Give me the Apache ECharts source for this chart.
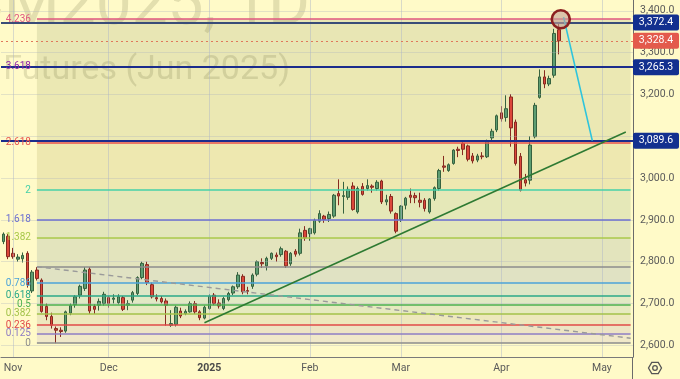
<!DOCTYPE html>
<html><head><meta charset="utf-8">
<script src="https://cdn.jsdelivr.net/npm/echarts@6.0.0/dist/echarts.min.js"></script>
<style>html,body{margin:0;padding:0;background:#fffac8;}#c{width:680px;height:379px;}</style>
</head><body><div id="c"></div>
<script>
// ---- categories (trading days, incl. projected future days) ----
const dates = [
'2024-10-30','2024-10-31',
'2024-11-01','2024-11-04','2024-11-05','2024-11-06','2024-11-07','2024-11-08','2024-11-11','2024-11-12','2024-11-13','2024-11-14','2024-11-15','2024-11-18','2024-11-19','2024-11-20','2024-11-21','2024-11-22','2024-11-25','2024-11-26','2024-11-27','2024-11-29',
'2024-12-02','2024-12-03','2024-12-04','2024-12-05','2024-12-06','2024-12-09','2024-12-10','2024-12-11','2024-12-12','2024-12-13','2024-12-16','2024-12-17','2024-12-18','2024-12-19','2024-12-20','2024-12-23','2024-12-24','2024-12-26','2024-12-27','2024-12-30','2024-12-31',
'2025-01-02','2025-01-03','2025-01-06','2025-01-07','2025-01-08','2025-01-09','2025-01-10','2025-01-13','2025-01-14','2025-01-15','2025-01-16','2025-01-17','2025-01-21','2025-01-22','2025-01-23','2025-01-24','2025-01-27','2025-01-28','2025-01-29','2025-01-30','2025-01-31',
'2025-02-03','2025-02-04','2025-02-05','2025-02-06','2025-02-07','2025-02-10','2025-02-11','2025-02-12','2025-02-13','2025-02-14','2025-02-18','2025-02-19','2025-02-20','2025-02-21','2025-02-24','2025-02-25','2025-02-26','2025-02-27','2025-02-28',
'2025-03-03','2025-03-04','2025-03-05','2025-03-06','2025-03-07','2025-03-10','2025-03-11','2025-03-12','2025-03-13','2025-03-14','2025-03-17','2025-03-18','2025-03-19','2025-03-20','2025-03-21','2025-03-24','2025-03-25','2025-03-26','2025-03-27','2025-03-28','2025-03-31',
'2025-04-01','2025-04-02','2025-04-03','2025-04-04','2025-04-07','2025-04-08','2025-04-09','2025-04-10','2025-04-11','2025-04-14','2025-04-15','2025-04-16','2025-04-17',
'2025-04-21','2025-04-22','2025-04-23','2025-04-24','2025-04-25','2025-04-28','2025-04-29','2025-04-30',
'2025-05-01','2025-05-02','2025-05-05','2025-05-06','2025-05-07','2025-05-08','2025-05-09'
];

// ---- OHLC values ----
const open = [2848,2861,2820,2806,2807,2820,2730,2780,2756,2693,2669,2640,2636,2634,2677,2697,2720,2736,2782,2693,2696,2700,
2714,2710,2702,2714,2696,2708,2724,2762,2793,2745,2714,2712,2706,2648,2650,2682,2676,2680,2700,2680,2665,
2688,2720,2701,2688,2709,2725,2740,2765,2731,2741,2770,2798,2790,2808,2816,2817,2825,2795,2825,2820,2875,
2867,2869,2897,2909,2903,2909,2963,2956,2954,2981,2919,2980,2975,2981,2975,2993,2943,2956,2915,
2901,2935,2959,2958,2947,2947,2919,2951,2975,3029,3018,3035,3069,3083,3077,3053,3043,3053,3051,3096,3115,
3156,3145,3194,3134,3052,2996,2995,3099,3193,3242,3225,3246,3355];
const high = [2870,2866,2833,2818,2822,2825,2780,2787,2760,2700,2678,2645,2643,2683,2700,2720,2745,2787,2787,2698,2712,2728,
2718,2722,2722,2718,2708,2730,2765,2800,2800,2750,2722,2718,2712,2684,2695,2690,2686,2705,2706,2684,2695,
2722,2725,2710,2716,2728,2743,2775,2770,2740,2772,2803,2808,2812,2822,2822,2836,2828,2823,2830,2879,2885,
2881,2903,2923,2912,2920,2962,2997,2991,2980,2990,2980,2988,2997,2985,2995,2996,2960,2962,2918,
2935,2955,2975,2965,2965,2952,2952,2980,3022,3053,3035,3069,3075,3090,3080,3060,3058,3062,3092,3118,3152,
3172,3198,3201,3140,3060,3010,3100,3180,3260,3258,3245,3357,3371];
const low = [2842,2806,2807,2800,2798,2738,2725,2755,2678,2660,2640,2605,2620,2630,2672,2690,2712,2730,2675,2675,2683,2695,
2690,2700,2698,2682,2684,2702,2720,2758,2744,2712,2705,2700,2647,2644,2645,2665,2672,2678,2675,2660,2662,
2685,2696,2688,2684,2705,2720,2735,2722,2722,2735,2765,2785,2779,2804,2800,2812,2785,2790,2812,2815,2850,
2850,2865,2893,2893,2895,2905,2935,2915,2948,2922,2915,2958,2970,2965,2970,2938,2935,2915,2868,
2895,2925,2940,2940,2930,2920,2915,2946,2970,3015,3015,3032,3050,3055,3040,3035,3038,3045,3048,3090,3110,
3135,3135,3075,3030,2968,2980,2985,3095,3190,3215,3220,3240,3296];
const close = [2866,2812,2812,2811,2815,2745,2775,2760,2681,2669,2648,2636,2633,2680,2695,2716,2741,2780,2682,2686,2705,2722,
2700,2713,2716,2686,2700,2726,2762,2796,2750,2716,2711,2704,2696,2652,2691,2670,2681,2700,2680,2666,2691,
2717,2700,2694,2712,2724,2740,2768,2728,2729,2768,2800,2795,2808,2820,2812,2831,2790,2820,2818,2869,2857,
2879,2899,2915,2901,2913,2959,2957,2958,2973,2925,2975,2961,2982,2978,2990,2943,2948,2921,2873,
2933,2952,2954,2953,2942,2927,2950,2977,3018,3026,3032,3067,3066,3069,3045,3041,3053,3051,3088,3112,3149,
3142,3166,3120,3035,2971,2988,3079,3174,3242,3225,3238,3346,3328.4];

// ---- axis ticks / labels ----
const priceTicks = [2600,2700,2800,2900,3000,3100,3200,3300,3400];
const priceLabels = [2600,2700,2800,2900,3000,3200,3300,3400];
const monthLabels = {'2024-11-01':'Nov','2024-12-02':'Dec','2025-01-02':'2025','2025-02-03':'Feb','2025-03-03':'Mar','2025-04-01':'Apr','2025-05-01':'May'};

// ---- Fibonacci extension ----
const fibRatios = [0,0.125,0.236,0.382,0.5,0.618,0.786,1,1.382,1.618,2,2.618,3.618,4.236];
const fibBase = 2605, fibRange = 183;
const fibStart = '2024-11-08';

// ---- drawings ----
const hLines = [3372.4, 3265.3, 3089.6];
const lastPrice = 3328.4;
const trendGreen = [['2024-12-31', 2654], ['2025-05-08', 3110]];
const trendDashed = [['2024-11-08', 2788], ['2025-05-09', 2617]];
const projCyan = [['2025-04-21', 3385], ['2025-04-29', 3089.6]];
const circleMark = [['2025-04-17', 3380]];

// ---- styles ----
const fibColors = ['#8c8c8c','#8e7cc3','#e04848','#a3c24a','#4cb050','#2aa889','#4ba3d9','#8c8c8c','#a8c84a','#6b6fd0','#45d0a8','#e8534c','#8e24aa','#e0567f'];
const bandColors = ['#f0e8c9','#ede4c4','#ede8bd','#e6eabf','#e1e9c4','#dde6c6','#e0e2c3','#e3e4bd','#e3e6bb','#e5e8b8','#eee8b0','#ebe8b3','#e8e6b4'];
const FONT = 'Roboto, "Liberation Sans", sans-serif';

const lastDate = dates[dates.length - 1];
const fibPrice = r => fibBase + r * fibRange;
const fmt = v => v.toLocaleString('en-US', {minimumFractionDigits: 1, maximumFractionDigits: 1});

const candleData = open.map((o, i) => [o, close[i], low[i], high[i]]);

const bands = [];
for (let i = 0; i < fibRatios.length - 1; i++) {
  bands.push([{xAxis: fibStart, yAxis: fibPrice(fibRatios[i]), itemStyle: {color: bandColors[i]}},
              {xAxis: lastDate, yAxis: fibPrice(fibRatios[i + 1])}]);
}
const gridLines = [];
priceTicks.forEach(v => gridLines.push({yAxis: v}));
Object.keys(monthLabels).forEach(d => gridLines.push({xAxis: d, lineStyle: {color: 'rgba(170,180,200,0.45)', width: 1, type: 'solid'}}));

const fibLines = fibRatios.map((r, i) => [
  {coord: [fibStart, fibPrice(r)], lineStyle: {color: fibColors[i], width: 1.5, type: 'solid'},
   label: {show: r !== 1, position: 'start', formatter: String(r), color: fibColors[i], fontSize: 10, fontFamily: FONT, distance: 6}},
  {coord: [lastDate, fibPrice(r)]}
]);

const drawLines = [];
hLines.forEach((v, i) => drawLines.push({yAxis: v, lineStyle: {color: i === 0 ? '#3a4c78' : '#1b2c8c', width: 2, type: 'solid'}}));
drawLines.push({yAxis: lastPrice, lineStyle: {color: '#e0785b', width: 1, type: [2, 3]}});
drawLines.push([{coord: trendGreen[0], lineStyle: {color: '#2e7a32', width: 1.6, type: 'solid'}}, {coord: trendGreen[1]}]);
drawLines.push([{coord: trendDashed[0], lineStyle: {color: '#9a9a9a', width: 1.4, type: [5, 4]}}, {coord: trendDashed[1]}]);
drawLines.push([{coord: projCyan[0], lineStyle: {color: '#2ec4dc', width: 1.6, type: 'solid'}}, {coord: projCyan[1]}]);

const chart = echarts.init(document.getElementById('c'), null, {renderer: 'canvas'});
const option = {
  animation: false,
  backgroundColor: '#fffac8',
  grid: {left: 1, right: 47, top: 0, bottom: 22, containLabel: false},
  xAxis: {
    type: 'category', data: dates, boundaryGap: true,
    axisTick: {show: false},
    axisLine: {show: true, lineStyle: {color: '#7a7a7a', width: 1}},
    splitLine: {show: false},
    axisLabel: {
      interval: (idx, v) => monthLabels[v] !== undefined,
      formatter: v => monthLabels[v] === '2025' ? '{b|2025}' : (monthLabels[v] || ''),
      color: '#5a5a5a', fontSize: 10.5, fontFamily: FONT, margin: 6,
      rich: {b: {fontWeight: 'bold', color: '#4a4a4a', fontSize: 10.5, fontFamily: FONT}}
    }
  },
  yAxis: {
    type: 'value', position: 'right', min: 2572, max: 3426, splitNumber: 8, scale: true,
    axisTick: {show: false},
    axisLine: {show: true, lineStyle: {color: '#6b6b6b', width: 1}},
    splitLine: {show: false},
    axisLabel: {customValues: priceLabels,
      formatter: v => fmt(v), color: '#5a5a5a', fontSize: 10.5, fontFamily: FONT, margin: 7}
  },
  series: [
    {type: 'line', data: [], z: 1, silent: true,
     markArea: {silent: true, data: bands},
     markLine: {silent: true, symbol: ['none', 'none'], label: {show: false},
       lineStyle: {color: 'rgba(175,180,190,0.35)', width: 1, type: 'solid'}, data: gridLines}},
    {type: 'line', data: [], z: 2, silent: true,
     markLine: {silent: true, symbol: ['none', 'none'], data: fibLines}},
    {type: 'candlestick', data: candleData, z: 3, barWidth: 3,
     itemStyle: {color: '#5d9d72', color0: '#dc473a', borderColor: '#36623f', borderColor0: '#862a20', borderWidth: 1}},
    {type: 'line', data: [], z: 5, silent: true,
     markLine: {silent: true, symbol: ['none', 'none'], label: {show: false}, data: drawLines}},
    {type: 'scatter', data: circleMark, z: 6, symbol: 'circle', symbolSize: 18, symbolOffset: [2, 0], silent: true,
     itemStyle: {color: 'rgba(195,160,150,0.6)', borderColor: '#8b1f1f', borderWidth: 2.6, opacity: 1}}
  ]
};
chart.setOption(option);

// watermark, price tags on right axis and decorations
const tags = [{v: hLines[0], bg: '#13308f'}, {v: lastPrice, bg: '#e35a4c'}, {v: hLines[1], bg: '#13308f'}, {v: hLines[2], bg: '#13308f'}];
const g = [
  {type: 'text', z: 2, silent: true, style: {text: 'GCM2025, 1D', x: 310, y: 8, align: 'right', verticalAlign: 'middle', font: '64px ' + FONT, fill: 'rgba(90,90,50,0.17)'}},
  {type: 'text', z: 2, silent: true, style: {text: 'Gold Futures (Jun 2025)', x: 290, y: 70, align: 'right', verticalAlign: 'middle', font: '34px ' + FONT, fill: 'rgba(90,90,50,0.17)'}},
  {type: 'line', z: 50, silent: true, shape: {x1: 632.5, y1: 357, x2: 632.5, y2: 379}, style: {stroke: '#6b6b6b', lineWidth: 1}}
];
tags.forEach(t => {
  const y = chart.convertToPixel({yAxisIndex: 0}, t.v);
  g.push({type: 'rect', z: 100, silent: true, shape: {x: 633, y: y - 8, width: 46, height: 16, r: 2}, style: {fill: t.bg}});
  g.push({type: 'text', z: 101, silent: true, style: {text: fmt(t.v), x: 656, y: y, align: 'center', verticalAlign: 'middle', font: '10.5px ' + FONT, fill: '#ffffff'}});
});
const hex = [];
for (let k = 0; k < 6; k++) { const a = Math.PI / 3 * k; hex.push([655 + 6.5 * Math.cos(a), 368 + 6.5 * Math.sin(a)]); }
g.push({type: 'polygon', z: 100, silent: true, shape: {points: hex}, style: {fill: 'none', stroke: '#555', lineWidth: 1.3}});
g.push({type: 'circle', z: 100, silent: true, shape: {cx: 655, cy: 368, r: 2.3}, style: {fill: 'none', stroke: '#555', lineWidth: 1.3}});
chart.setOption({graphic: g});
</script></body></html>
